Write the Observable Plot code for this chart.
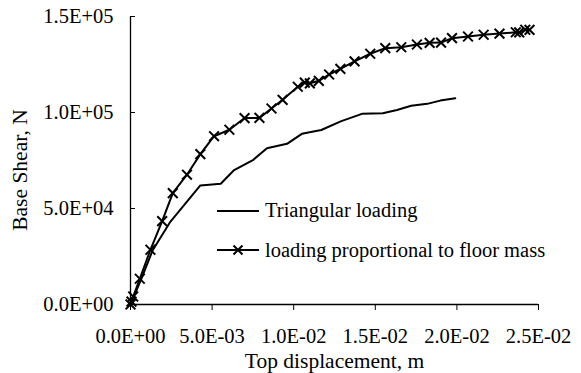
<!DOCTYPE html>
<html>
<head>
<meta charset="utf-8">
<script src="https://cdn.jsdelivr.net/npm/d3@7"></script>
<script src="https://cdn.jsdelivr.net/npm/@observablehq/plot@0.6"></script>
<style>
  html, body { margin: 0; padding: 0; background: #fff; }
  #wrap { position: relative; width: 581px; height: 373px; font-family: "Liberation Serif", "Times New Roman", serif; }
  #legend { position: absolute; left: 217px; top: 197px; font-size: 20.5px; color: #000; }
  .row { display: flex; align-items: center; height: 27px; margin-bottom: 12.5px; white-space: nowrap; }
  .row svg { margin-right: 6px; }
</style>
</head>
<body>
<div id="wrap"></div>
<script>
// Triangular loading: top displacement (m), base shear (N)
const triX = [0, 0.00067, 0.00135, 0.00245, 0.00428, 0.00553, 0.00632, 0.0075, 0.00836, 0.00959, 0.0105, 0.01169, 0.01292, 0.01418, 0.01546, 0.01633, 0.0172, 0.01818, 0.01898, 0.0199];
const triY = [0, 13500, 28100, 43200, 62000, 62900, 69800, 75200, 81400, 83700, 88900, 90900, 95500, 99300, 99600, 101300, 103500, 104500, 106200, 107400];

// Loading proportional to floor mass
const massX = [0, 0.00006, 0.000165, 0.00057, 0.00122, 0.00194, 0.00259, 0.00346, 0.00428, 0.00512, 0.00606, 0.00699, 0.0079, 0.00864, 0.00932, 0.01025, 0.01068, 0.01099, 0.01154, 0.01217, 0.01286, 0.01373, 0.01469, 0.01561, 0.01659, 0.01755, 0.01833, 0.01903, 0.0197, 0.02068, 0.02164, 0.02261, 0.02361, 0.02382, 0.02419, 0.02445];
const massY = [0, 1500, 4170, 13400, 28500, 43400, 58000, 67600, 78300, 87650, 91000, 97100, 97200, 102100, 106600, 113400, 115600, 115200, 116500, 119800, 122700, 126600, 130600, 133500, 134000, 135400, 136300, 136400, 138700, 139600, 140500, 141100, 141800, 141700, 143100, 143000];

const xTicks = [0, 0.005, 0.01, 0.015, 0.02, 0.025];
const yTicks = [0, 50000, 100000, 150000];

const seriesNames = ["Triangular loading", "loading proportional to floor mass"];
const xTitle = "Top displacement, m";
const yTitle = "Base Shear, N";

const fmt = d => {
  const [m, e] = d.toExponential(1).split("e");
  return m + "E" + e[0] + e.slice(1).padStart(2, "0");
};

const tri = triX.map((x, i) => ({x, y: triY[i]}));
const mass = massX.map((x, i) => ({x, y: massY[i]}));

const chart = Plot.plot({
  width: 581,
  height: 373,
  marginLeft: 130,
  marginRight: 43,
  marginTop: 16,
  marginBottom: 69,
  style: {fontFamily: "Liberation Serif, Times New Roman, serif", fontSize: "20.5px", background: "#fff", color: "#000"},
  x: {domain: [0, 0.025]},
  y: {domain: [0, 150000]},
  marks: [
    Plot.axisX({ticks: xTicks, tickFormat: fmt, tickSize: 6, tickPadding: 18, label: null, fontSize: 20.5}),
    Plot.axisY({ticks: yTicks, tickFormat: () => "", tickSize: 5, dx: 5, label: null}),
    Plot.axisY({ticks: yTicks, tickFormat: fmt, tickSize: 0, tickPadding: 17, label: null, fontSize: 20.5}),
    Plot.ruleX([0], {strokeWidth: 1.3}),
    Plot.ruleY([0], {strokeWidth: 1.3}),
    Plot.text([xTitle], {frameAnchor: "bottom", dy: 57, fontSize: 21.5, lineAnchor: "middle"}),
    Plot.line(tri, {x: "x", y: "y", stroke: "#000", strokeWidth: 2}),
    Plot.line(mass, {x: "x", y: "y", stroke: "#000", strokeWidth: 2}),
    Plot.dot(mass, {x: "x", y: "y", symbol: "times", r: 4.5, stroke: "#000", strokeWidth: 2})
  ]
});

const wrap = document.getElementById("wrap");
wrap.appendChild(chart);

// y-axis title, rotated
const yt = document.createElement("div");
yt.textContent = yTitle;
Object.assign(yt.style, {
  position: "absolute", left: "21px", top: "170px", fontSize: "21.5px", lineHeight: "1",
  whiteSpace: "nowrap", transform: "translate(-50%, -50%) rotate(-90deg)", transformOrigin: "50% 50%"
});
// position centre at (21,170)
yt.style.left = "21px";
wrap.appendChild(yt);

const legend = document.createElement("div");
legend.id = "legend";
legend.innerHTML = `
  <div class="row"><svg width="42" height="12"><line x1="0" y1="6" x2="42" y2="6" stroke="#000" stroke-width="2"/></svg><span>${seriesNames[0]}</span></div>
  <div class="row"><svg width="42" height="12"><line x1="0" y1="6" x2="42" y2="6" stroke="#000" stroke-width="2"/><path d="M16.5,1.5 L25.5,10.5 M25.5,1.5 L16.5,10.5" stroke="#000" stroke-width="2"/></svg><span>${seriesNames[1]}</span></div>
`;
wrap.appendChild(legend);
</script>
</body>
</html>
